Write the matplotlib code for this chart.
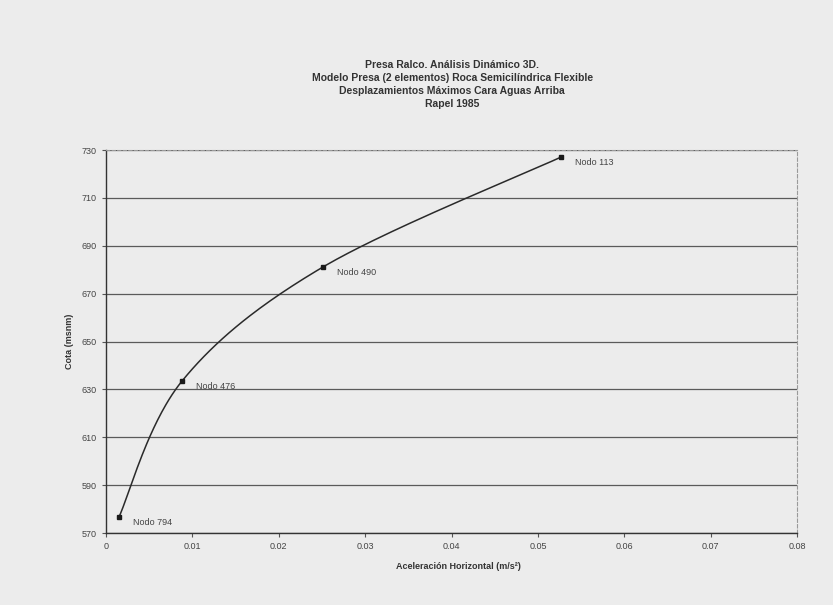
import numpy as np
import matplotlib
matplotlib.use("Agg")
import matplotlib.pyplot as plt

plt.rcParams['font.family'] = ['Liberation Sans', 'DejaVu Sans']

nodes = ["Nodo 794", "Nodo 476", "Nodo 490", "Nodo 113"]
accel = [0.0015, 0.0088, 0.0251, 0.0527]
cota = [576.7, 633.5, 681.1, 727.1]
y_ticks = [570, 590, 610, 630, 650, 670, 690, 710, 730]
x_ticks = [0, 0.01, 0.02, 0.03, 0.04, 0.05, 0.06, 0.07, 0.08]
x_ticklabels = ["0", "0.01", "0.02", "0.03", "0.04", "0.05", "0.06", "0.07", "0.08"]
title = ("Presa Ralco. Análisis Dinámico 3D.\n"
         "Modelo Presa (2 elementos) Roca Semicilíndrica Flexible\n"
         "Desplazamientos Máximos Cara Aguas Arriba\n"
         "Rapel 1985")


def smooth(xs, ys, n=60):
    # Excel-like smoothed line (Catmull-Rom style Bezier through the points)
    xs = np.asarray(xs, float); ys = np.asarray(ys, float)
    sx = 1 / 0.08; sy = 1 / 160.0
    px = np.concatenate([[xs[0]], xs, [xs[-1]]]) * sx
    py = np.concatenate([[ys[0]], ys, [ys[-1]]]) * sy
    outx, outy = [], []
    for i in range(1, len(px) - 2):
        p0 = np.array([px[i - 1], py[i - 1]]); p1 = np.array([px[i], py[i]])
        p2 = np.array([px[i + 1], py[i + 1]]); p3 = np.array([px[i + 2], py[i + 2]])
        c1 = p1 + (p2 - p0) / 6
        c2 = p2 - (p3 - p1) / 6
        t = np.linspace(0, 1, n)[:, None]
        b = ((1 - t) ** 3) * p1 + 3 * ((1 - t) ** 2) * t * c1 + 3 * (1 - t) * t ** 2 * c2 + t ** 3 * p2
        outx.extend(b[:, 0] / sx); outy.extend(b[:, 1] / sy)
    return np.array(outx), np.array(outy)


bg = '#ececec'
fig = plt.figure(figsize=(8.33, 6.05), dpi=100, facecolor=bg)
ax = fig.add_axes([0.1273, 0.119, 0.8295, 0.633])
ax.set_facecolor(bg)

ax.set_xlim(0, 0.08)
ax.set_ylim(570, 730)
ax.set_yticks(y_ticks)
ax.set_xticks(x_ticks)
ax.set_xticklabels(x_ticklabels)
ax.yaxis.grid(True, color='#5a5a5a', lw=0.9)
ax.set_axisbelow(True)

for s in ['top', 'right']:
    ax.spines[s].set_color('#9a9a9a')
    ax.spines[s].set_linestyle((0, (3, 2)))
    ax.spines[s].set_linewidth(0.8)
for s in ['left', 'bottom']:
    ax.spines[s].set_color('#333333')
    ax.spines[s].set_linewidth(1.0)

ax.tick_params(axis='both', labelsize=6.5, colors='#555555', length=3, width=0.8, labelcolor='#444444')

cx, cy = smooth(accel, cota)
ax.plot(cx, cy, color='#2a2a2a', lw=1.1)
ax.plot(accel, cota, 's', color='#1a1a1a', ms=3.5)
for n, x, y in zip(nodes, accel, cota):
    ax.annotate(n, (x, y), xytext=(10, -4), textcoords='offset points', fontsize=6.5, color='#444444', va='center')

ax.set_xlabel("Aceleración Horizontal (m/s²)", fontsize=6.5, fontweight='bold', color='#333333', labelpad=8)
ax.xaxis.set_label_coords(0.51, -0.075)
ax.set_ylabel("Cota (msnm)", fontsize=6.5, fontweight='bold', color='#333333', labelpad=6)

fig.text(0.543, 0.86, title, ha='center', va='center', fontsize=7.5, fontweight='bold', color='#333333', linespacing=1.35)

fig.savefig("out.png", dpi=100, facecolor=bg)
